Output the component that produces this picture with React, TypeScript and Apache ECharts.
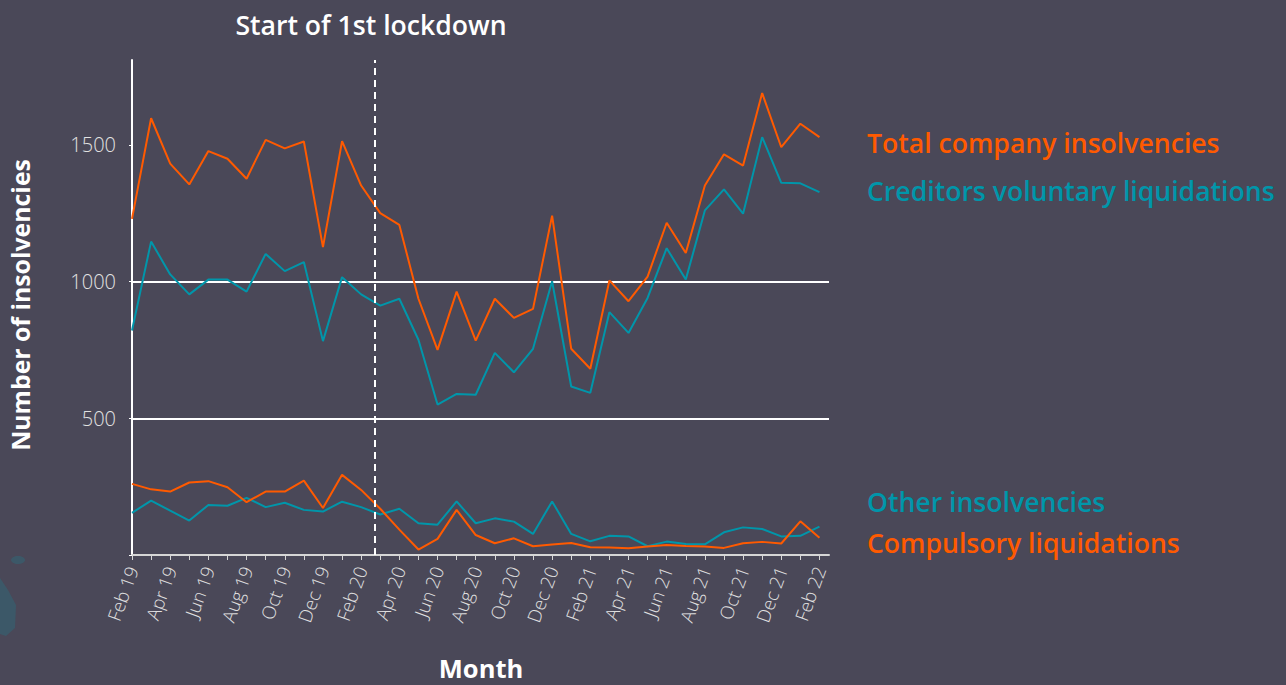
import React, { useEffect, useRef } from "react";
import * as echarts from "echarts";

const months = [
  "Feb 19", "Mar 19", "Apr 19", "May 19", "Jun 19", "Jul 19", "Aug 19", "Sep 19", "Oct 19", "Nov 19", "Dec 19", "Jan 20",
  "Feb 20", "Mar 20", "Apr 20", "May 20", "Jun 20", "Jul 20", "Aug 20", "Sep 20", "Oct 20", "Nov 20", "Dec 20", "Jan 21",
  "Feb 21", "Mar 21", "Apr 21", "May 21", "Jun 21", "Jul 21", "Aug 21", "Sep 21", "Oct 21", "Nov 21", "Dec 21", "Jan 22",
  "Feb 22",
];

const totalInsolvencies = [
  1229, 1597, 1431, 1355, 1477, 1449, 1376, 1518, 1487, 1512, 1126, 1513,
  1351, 1250, 1207, 937, 750, 963, 784, 937, 867, 900, 1241, 754,
  681, 1004, 928, 1018, 1215, 1104, 1351, 1465, 1424, 1689, 1491, 1577,
  1528,
];

const creditorsVoluntary = [
  821, 1146, 1026, 953, 1007, 1007, 963, 1101, 1038, 1071, 782, 1016,
  953, 912, 937, 787, 550, 589, 586, 739, 668, 754, 1001, 616,
  593, 888, 812, 940, 1122, 1007, 1260, 1337, 1248, 1528, 1361, 1359,
  1327,
];

const compulsory = [
  260, 240, 232, 265, 270, 248, 193, 232, 232, 272, 172, 293,
  238, 169, 93, 20, 59, 165, 73, 43, 61, 32, 38, 44,
  28, 27, 25, 31, 37, 33, 31, 26, 43, 48, 42, 123,
  63,
];

const otherInsolvencies = [
  154, 199, 162, 126, 183, 180, 209, 175, 191, 165, 159, 195,
  175, 148, 169, 116, 111, 196, 116, 134, 122, 77, 196, 77,
  50, 70, 68, 32, 49, 40, 39, 83, 101, 95, 68, 70,
  104,
];

const yTicks = [500, 1000, 1500];
const lockdownPosition = 12.7; // ~23 March 2020

const ORANGE = "#ff5a00";
const TEAL = "#0096aa";
const BG = "#4a4858";
const FONT = '"Open Sans", "Noto Sans", sans-serif';

export default function App() {
  const ref = useRef<HTMLDivElement>(null);

  useEffect(() => {
    if (!ref.current) return;
    const chart = echarts.init(ref.current, undefined, { renderer: "svg" });
    const toPairs = (arr: number[]) => arr.map((v, i) => [i, v]);
    const tickIdx = months.map((_, i) => i);
    const labelIdx = months.map((_, i) => i).filter((i) => i % 2 === 0);

    const lineSeries = (name: string, data: number[], color: string) => ({
      name,
      type: "line",
      data: toPairs(data),
      symbol: "none",
      lineStyle: { color, width: 2 },
      itemStyle: { color },
    });

    chart.setOption({
      animation: false,
      backgroundColor: BG,
      grid: { left: 132, right: 457, top: 60, bottom: 130 },
      xAxis: {
        type: "value",
        min: 0,
        max: 36.5,
        interval: 1,
        axisLine: { show: true, lineStyle: { color: "#d6d6d6", width: 2 } },
        axisTick: { show: true, length: 5, customValues: tickIdx, lineStyle: { color: "#d6d6d6", width: 1 } },
        axisLabel: {
          customValues: labelIdx,
          formatter: (v: number) => months[Math.round(v)] ?? "",
          rotate: 70,
          color: "#e2e2e2",
          fontSize: 18.5,
          fontWeight: 300,
          fontFamily: FONT,
          margin: 12,
        },
        splitLine: { show: false },
      },
      yAxis: {
        type: "value",
        min: 0,
        max: 1810,
        interval: 500,
        axisLine: { show: true, lineStyle: { color: "#ffffff", width: 2 } },
        axisTick: { show: true, length: 3, customValues: [0, ...yTicks], lineStyle: { color: "#ffffff" } },
        axisLabel: {
          customValues: yTicks,
          formatter: (v: number) => String(v),
          color: "#e2e2e2",
          fontSize: 20,
          fontWeight: 300,
          fontFamily: FONT,
          margin: 16,
        },
        splitLine: { show: true, showMinLine: false, showMaxLine: false, lineStyle: { color: "#ffffff", width: 2 } },
      },
      series: [
        lineSeries("Other insolvencies", otherInsolvencies, TEAL),
        lineSeries("Compulsory liquidations", compulsory, ORANGE),
        lineSeries("Creditors voluntary liquidations", creditorsVoluntary, TEAL),
        {
          ...lineSeries("Total company insolvencies", totalInsolvencies, ORANGE),
          markLine: {
            silent: true,
            symbol: "none",
            label: { show: false },
            lineStyle: { color: "#ffffff", type: [7, 5], width: 2 },
            data: [{ xAxis: lockdownPosition }],
          },
        },
      ],
      graphic: [
        {
          type: "polygon",
          silent: true,
          shape: { points: [[0, 578], [8, 590], [16, 605], [15, 628], [6, 636], [0, 634]] },
          style: { fill: "#36606f", opacity: 0.7 },
        },
        {
          type: "ellipse",
          silent: true,
          shape: { cx: 18, cy: 560, rx: 7, ry: 4 },
          style: { fill: "#36606f", opacity: 0.7 },
        },
        {
          type: "text",
          x: 371,
          y: 25,
          style: { text: "Start of 1st lockdown", fill: "#ffffff", font: `600 26.6px ${FONT}`, textAlign: "center", textVerticalAlign: "middle" },
        },
        {
          type: "text",
          x: 20,
          y: 305,
          rotation: Math.PI / 2,
          style: { text: "Number of insolvencies", fill: "#ffffff", font: `700 24.8px ${FONT}`, textAlign: "center", textVerticalAlign: "middle" },
        },
        {
          type: "text",
          x: 481,
          y: 668,
          style: { text: "Month", fill: "#ffffff", font: `700 25.5px ${FONT}`, textAlign: "center", textVerticalAlign: "middle" },
        },
        {
          type: "text",
          x: 867,
          y: 143,
          style: { text: "Total company insolvencies", fill: ORANGE, font: `600 26.6px ${FONT}`, textAlign: "left", textVerticalAlign: "middle" },
        },
        {
          type: "text",
          x: 867,
          y: 191,
          style: { text: "Creditors voluntary liquidations", fill: TEAL, font: `600 26.6px ${FONT}`, textAlign: "left", textVerticalAlign: "middle" },
        },
        {
          type: "text",
          x: 867,
          y: 502,
          style: { text: "Other insolvencies", fill: TEAL, font: `600 26.6px ${FONT}`, textAlign: "left", textVerticalAlign: "middle" },
        },
        {
          type: "text",
          x: 867,
          y: 543,
          style: { text: "Compulsory liquidations", fill: ORANGE, font: `600 26.6px ${FONT}`, textAlign: "left", textVerticalAlign: "middle" },
        },
      ],
    });

    return () => chart.dispose();
  }, []);

  return (
    <div
      ref={ref}
      style={{ position: "fixed", left: 0, top: 0, width: 1286, height: 685, background: BG }}
    />
  );
}
